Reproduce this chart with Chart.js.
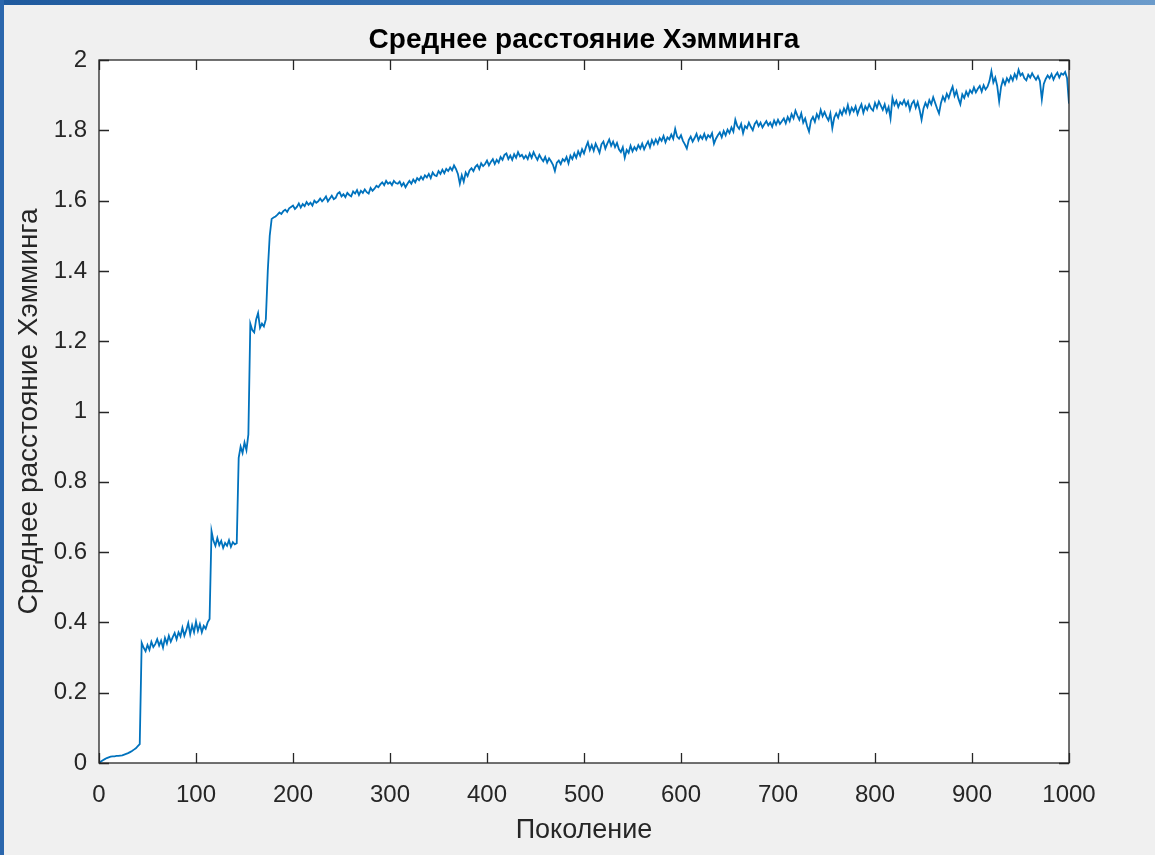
<!DOCTYPE html>
<html>
<head>
<meta charset="utf-8">
<script src="https://cdn.jsdelivr.net/npm/chart.js@4"></script>
<style>
  html, body { margin: 0; padding: 0; width: 1155px; height: 855px; overflow: hidden; background: #f0f0f0; }
  #wrap { position: absolute; left: 0; top: 0; width: 1155px; height: 855px; }
  #topbar { position: absolute; left: 0; top: 0; width: 1155px; height: 5px;
            background: linear-gradient(90deg, #1f5a9e 0%, #3a74b4 50%, #6b9bcb 100%); }
  #leftbar { position: absolute; left: 0; top: 0; width: 4px; height: 855px; background: #2b67ad; }
</style>
</head>
<body>
<div id="wrap"><canvas id="c" width="1155" height="855"></canvas></div>
<div id="topbar"></div>
<div id="leftbar"></div>
<script>
// Generation spacing between stored samples
const STEP = 2;

// Mean Hamming distance of the population, one sample every STEP generations (0..1000)
const meanHamming = [
  0.000, 0.004, 0.008, 0.011, 0.014, 0.016, 0.018, 0.019, 0.019, 0.020,
  0.020, 0.021, 0.022, 0.024, 0.026, 0.028, 0.031, 0.034, 0.038, 0.042,
  0.048, 0.054, 0.342, 0.328, 0.318, 0.336, 0.322, 0.345, 0.330, 0.338,
  0.352, 0.334, 0.348, 0.328, 0.356, 0.340, 0.362, 0.345, 0.358, 0.370,
  0.352, 0.372, 0.360, 0.385, 0.362, 0.378, 0.398, 0.366, 0.392, 0.372,
  0.402, 0.376, 0.395, 0.372, 0.390, 0.382, 0.400, 0.410, 0.660, 0.632,
  0.618, 0.640, 0.620, 0.632, 0.612, 0.626, 0.618, 0.634, 0.615, 0.628,
  0.622, 0.625, 0.868, 0.900, 0.882, 0.912, 0.890, 0.935, 1.250, 1.232,
  1.225, 1.262, 1.280, 1.238, 1.250, 1.242, 1.262, 1.400, 1.500, 1.548,
  1.552, 1.555, 1.560, 1.566, 1.562, 1.570, 1.574, 1.568, 1.578, 1.582,
  1.586, 1.576, 1.582, 1.592, 1.580, 1.590, 1.584, 1.596, 1.588, 1.594,
  1.586, 1.600, 1.594, 1.598, 1.606, 1.598, 1.604, 1.612, 1.598, 1.606,
  1.614, 1.604, 1.608, 1.620, 1.624, 1.612, 1.618, 1.610, 1.622, 1.616,
  1.612, 1.626, 1.620, 1.630, 1.616, 1.628, 1.622, 1.632, 1.624, 1.620,
  1.636, 1.628, 1.634, 1.642, 1.638, 1.646, 1.652, 1.644, 1.656, 1.648,
  1.652, 1.644, 1.656, 1.650, 1.648, 1.654, 1.642, 1.650, 1.638, 1.648,
  1.656, 1.648, 1.660, 1.652, 1.664, 1.658, 1.668, 1.660, 1.672, 1.666,
  1.676, 1.664, 1.680, 1.672, 1.670, 1.684, 1.676, 1.688, 1.678, 1.690,
  1.684, 1.694, 1.686, 1.700, 1.690, 1.676, 1.648, 1.672, 1.654, 1.680,
  1.670, 1.686, 1.692, 1.684, 1.696, 1.702, 1.690, 1.706, 1.698, 1.704,
  1.714, 1.700, 1.710, 1.718, 1.704, 1.716, 1.708, 1.724, 1.716, 1.730,
  1.734, 1.718, 1.728, 1.716, 1.732, 1.722, 1.738, 1.726, 1.730, 1.720,
  1.728, 1.718, 1.734, 1.722, 1.738, 1.726, 1.716, 1.730, 1.720, 1.712,
  1.724, 1.708, 1.720, 1.712, 1.702, 1.684, 1.708, 1.714, 1.704, 1.718,
  1.712, 1.724, 1.706, 1.728, 1.718, 1.734, 1.722, 1.740, 1.728, 1.746,
  1.734, 1.752, 1.766, 1.744, 1.758, 1.742, 1.762, 1.750, 1.736, 1.760,
  1.768, 1.748, 1.762, 1.774, 1.756, 1.768, 1.752, 1.764, 1.746, 1.738,
  1.752, 1.722, 1.744, 1.736, 1.756, 1.740, 1.752, 1.744, 1.758, 1.748,
  1.762, 1.746, 1.758, 1.768, 1.752, 1.772, 1.760, 1.774, 1.762, 1.778,
  1.770, 1.784, 1.766, 1.780, 1.774, 1.788, 1.776, 1.804, 1.782, 1.776,
  1.786, 1.770, 1.760, 1.748, 1.772, 1.782, 1.768, 1.778, 1.790, 1.772,
  1.784, 1.776, 1.790, 1.774, 1.786, 1.780, 1.792, 1.762, 1.776, 1.786,
  1.794, 1.780, 1.798, 1.786, 1.802, 1.792, 1.808, 1.796, 1.830, 1.812,
  1.804, 1.818, 1.792, 1.812, 1.806, 1.822, 1.810, 1.800, 1.818, 1.826,
  1.812, 1.822, 1.808, 1.818, 1.826, 1.814, 1.822, 1.810, 1.828, 1.816,
  1.830, 1.818, 1.826, 1.834, 1.820, 1.838, 1.826, 1.846, 1.834, 1.856,
  1.842, 1.830, 1.848, 1.822, 1.834, 1.812, 1.796, 1.828, 1.838, 1.824,
  1.846, 1.834, 1.858, 1.840, 1.852, 1.838, 1.828, 1.848, 1.806, 1.836,
  1.848, 1.836, 1.856, 1.844, 1.862, 1.850, 1.872, 1.848, 1.864, 1.854,
  1.868, 1.846, 1.862, 1.874, 1.850, 1.868, 1.858, 1.874, 1.862, 1.856,
  1.878, 1.864, 1.882, 1.870, 1.858, 1.874, 1.852, 1.866, 1.834, 1.892,
  1.872, 1.884, 1.866, 1.880, 1.874, 1.886, 1.870, 1.882, 1.858, 1.876,
  1.884, 1.864, 1.880, 1.858, 1.830, 1.862, 1.878, 1.866, 1.886, 1.874,
  1.894, 1.878, 1.862, 1.848, 1.878, 1.896, 1.884, 1.904, 1.892, 1.910,
  1.924, 1.898, 1.912, 1.890, 1.874, 1.902, 1.892, 1.910, 1.898, 1.914,
  1.906, 1.922, 1.908, 1.918, 1.926, 1.910, 1.928, 1.916, 1.924, 1.940,
  1.968, 1.936, 1.950, 1.926, 1.882, 1.924, 1.944, 1.930, 1.948, 1.938,
  1.954, 1.942, 1.960, 1.948, 1.972, 1.956, 1.962, 1.948, 1.942, 1.958,
  1.950, 1.962, 1.952, 1.944, 1.954, 1.940, 1.888, 1.932, 1.946, 1.956,
  1.948, 1.960, 1.944, 1.956, 1.964, 1.950, 1.962, 1.958, 1.966, 1.948,
  1.876
];

const xRange = [0, 1000];
const xTickStep = 100;
const yRange = [0, 2];
const yTickStep = 0.2;

const titleText = 'Среднее расстояние Хэмминга';
const xLabel = 'Поколение';
const yLabel = 'Среднее расстояние Хэмминга';

const FONT = "'Liberation Sans', Arial, Helvetica, sans-serif";
const AXIS_COLOR = '#262626';

const points = meanHamming.map((v, i) => ({ x: i * STEP, y: v }));

// Figure background, white axes, box outline and inward tick marks on all four sides
const axesFrame = {
  id: 'axesFrame',
  beforeDraw(chart) {
    const { ctx, chartArea: a } = chart;
    ctx.save();
    ctx.fillStyle = '#f0f0f0';
    ctx.fillRect(0, 0, chart.width, chart.height);
    ctx.fillStyle = '#ffffff';
    ctx.fillRect(a.left, a.top, a.right - a.left, a.bottom - a.top);
    ctx.restore();
  },
  afterDraw(chart) {
    const { ctx, chartArea: a, scales } = chart;
    const len = 10;
    ctx.save();
    ctx.strokeStyle = AXIS_COLOR;
    ctx.lineWidth = 1.3;
    ctx.beginPath();
    scales.x.ticks.forEach(t => {
      const px = Math.round(scales.x.getPixelForValue(t.value)) + 0.5;
      ctx.moveTo(px, a.bottom); ctx.lineTo(px, a.bottom - len);
      ctx.moveTo(px, a.top); ctx.lineTo(px, a.top + len);
    });
    scales.y.ticks.forEach(t => {
      const py = Math.round(scales.y.getPixelForValue(t.value)) + 0.5;
      ctx.moveTo(a.left, py); ctx.lineTo(a.left + len, py);
      ctx.moveTo(a.right, py); ctx.lineTo(a.right - len, py);
    });
    ctx.stroke();
    ctx.strokeRect(a.left, a.top, a.right - a.left, a.bottom - a.top);
    ctx.restore();
  }
};

new Chart(document.getElementById('c'), {
  type: 'line',
  data: {
    datasets: [{
      data: points,
      borderColor: '#0072BD',
      borderWidth: 1.8,
      pointRadius: 0,
      tension: 0,
      fill: false
    }]
  },
  options: {
    responsive: false,
    animation: false,
    events: [],
    layout: { padding: { left: 0, right: 86, top: 0, bottom: 0 } },
    plugins: {
      legend: { display: false },
      tooltip: { enabled: false },
      title: {
        display: true,
        text: titleText,
        fullSize: false,
        color: '#000000',
        font: { family: FONT, size: 28, weight: 'bold' },
        padding: { top: 23, bottom: 3.4 }
      }
    },
    scales: {
      x: {
        type: 'linear',
        min: xRange[0],
        max: xRange[1],
        grid: { display: false, drawTicks: false },
        border: { display: false },
        ticks: {
          stepSize: xTickStep,
          color: AXIS_COLOR,
          padding: 18,
          maxRotation: 0,
          font: { family: FONT, size: 24 },
          callback: v => String(v)
        },
        title: {
          display: true,
          text: xLabel,
          color: AXIS_COLOR,
          font: { family: FONT, size: 27 },
          padding: { top: 0, bottom: 8.5 }
        },
        afterFit(scale) { scale.height = 92; }
      },
      y: {
        type: 'linear',
        min: yRange[0],
        max: yRange[1],
        grid: { display: false, drawTicks: false },
        border: { display: false },
        ticks: {
          stepSize: yTickStep,
          color: AXIS_COLOR,
          padding: 12,
          font: { family: FONT, size: 24 },
          callback: v => String(Number(v.toFixed(1)))
        },
        title: {
          display: true,
          text: yLabel,
          color: AXIS_COLOR,
          font: { family: FONT, size: 28 },
          padding: { top: 12, bottom: 0 }
        },
        afterFit(scale) { scale.width = 99; }
      }
    }
  },
  plugins: [axesFrame]
});
</script>
</body>
</html>
